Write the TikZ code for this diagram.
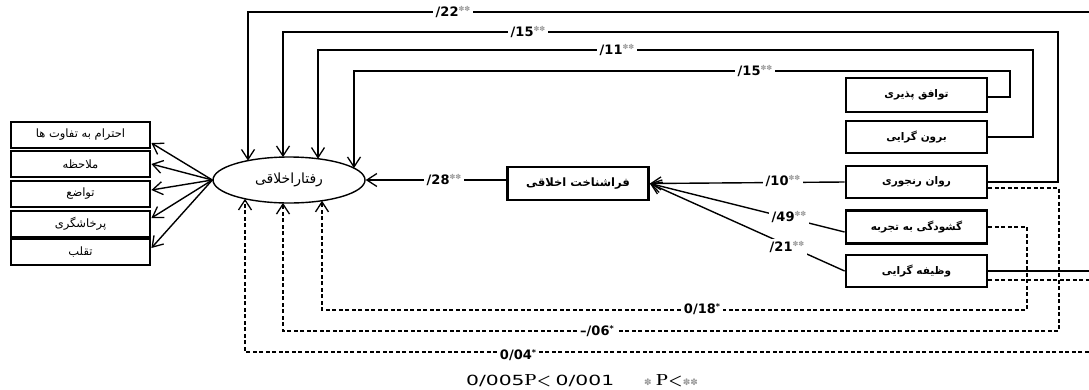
\documentclass[tikz,border=0pt]{standalone}
\usepackage{fontspec}
\usetikzlibrary{arrows.meta,shapes.geometric,calc}
\TeXXeTstate=1
\newfontfamily\fa[Script=Arabic]{DejaVu Sans}
\newfontfamily\numf{DejaVu Sans}
\newcommand\fat[1]{{\fa\beginR #1\endR}}
\newcommand\coef[2]{{\numf\bfseries #1}\raisebox{4.5pt}{\numf\fontsize{7}{7}\selectfont\color{gray!80}#2}}
\newcommand\coefb[1]{{\numf\bfseries #1}\raisebox{4.5pt}{\numf\bfseries\fontsize{8}{8}\selectfont *}}
\begin{document}
\begin{tikzpicture}[x=1pt,y=-1pt,
  box/.style={draw, line width=2.8pt, minimum width=139pt, minimum height=26pt, inner sep=0pt, font=\fa\fontsize{11.5}{11.5}\selectfont},
  rbox/.style={draw, line width=2.8pt, minimum width=141pt, minimum height=32pt, inner sep=0pt, font=\fa\bfseries\fontsize{10.5}{10.5}\selectfont},
  conn/.style={line width=1.4pt},
  arr/.style={conn, -{Straight Barb[length=10pt,width=13pt,line width=1.3pt]}},
  dsh/.style={arr, dash pattern=on 4pt off 2.5pt},
  lab/.style={fill=white, inner sep=2.5pt, font=\numf\bfseries\fontsize{13}{13}\selectfont}]
\useasboundingbox (0,0) rectangle (1089,389);
\fill[white] (0,0) rectangle (1089,389);
\clip (0,0) rectangle (1089,389);

% left boxes
\node[box] (L1) at (80.5,135) {\fat{احترام به تفاوت ها}};
\node[box] (L2) at (80.5,164) {\fat{ملاحظه}};
\node[box] (L3) at (80.5,194) {\fat{تواضع}};
\node[box] (L4) at (80.5,224) {\fat{پرخاشگری}};
\node[box] (L5) at (80.5,252) {\fat{تقلب}};

% ellipse
\node[draw, ellipse, line width=1.4pt, minimum width=152pt, minimum height=46pt, inner sep=0pt, font=\fa\fontsize{14}{14}\selectfont] (ell) at (289,180) {\fat{رفتاراخلاقی}};

% middle box
\node[rbox, minimum height=33pt, font=\fa\bfseries\fontsize{11.5}{11.5}\selectfont] (M) at (578,183.5) {\fat{فراشناخت اخلاقی}};

% right boxes
\node[rbox, minimum height=34pt] (R1) at (916.5,95) {\fat{توافق پذیری}};
\node[rbox] (R2) at (916.5,137) {\fat{برون گرایی}};
\node[rbox] (R3) at (916.5,182) {\fat{روان رنجوری}};
\node[rbox, minimum height=33pt] (R4) at (916.5,227) {\fat{گشودگی به تجربه}};
\node[rbox] (R5) at (916.5,271) {\fat{وظیفه گرایی}};

% points on ellipse
\coordinate (t1) at (248,160.6);
\coordinate (t2) at (283,157.1);
\coordinate (t3) at (318,158.7);
\coordinate (t4) at (354,168.1);
\coordinate (b1) at (245,198.8);
\coordinate (b2) at (283,202.9);
\coordinate (b3) at (322,200.7);

% ellipse to left boxes
\draw[arr] (ell.west) -- ($(L1.east)+(0,8)$);
\draw[arr] (ell.west) -- ($(L2.east)+(0,0)$);
\draw[arr] (ell.west) -- ($(L3.east)+(0,-4)$);
\draw[arr] (ell.west) -- ($(L4.east)+(0,-6)$);
\draw[arr] (ell.west) -- ($(L5.east)+(0,-4)$);

% top solid connectors
\draw[arr] (R5.east) -- (1100,271) |- (248,12) -- (t1);
\draw[arr] (R3.east) -- (1058,182) |- (283,32) -- (t2);
\draw[arr] (R2.east) -- (1033,137) |- (318,50) -- (t3);
\draw[arr] ($(R1.east)+(0,2)$) -- (1010,97) |- (354,71) -- (t4);
\node[lab] at (453,12) {\coef{/22}{✽✽}};
\node[lab] at (528,32) {\coef{/15}{✽✽}};
\node[lab] at (617,50) {\coef{/11}{✽✽}};
\node[lab] at (755,71) {\coef{/15}{✽✽}};

% middle
\draw[arr] (M.west |- ell.east) -- (ell.east);
\node[lab] at (444,180) {\coef{/28}{✽✽}};
\draw[arr] (R3.west) -- (M.east);
\draw[arr] ($(R4.west)+(0,5)$) -- (M.east);
\draw[arr] (R5.west) -- (M.east);
\node[lab] at (783,181) {\coef{/10}{✽✽}};
\node[lab] at (789,217) {\coef{/49}{✽✽}};
\node[lab] at (787,247) {\coef{/21}{✽✽}};

% dashed connectors
\draw[dsh] (R4.east) -- (1027,227) |- (322,310) -- (b3);
\draw[dsh] ($(R3.east)+(0,6)$) -- (1059,188) |- (283,331) -- (b2);
\draw[dsh] ($(R5.east)+(0,9)$) -- (1100,280) |- (245,352) -- (b1);
\node[lab] at (702,309) {\coefb{0/18}};
\node[lab] at (597,331) {\coefb{–/06}};
\node[lab, yshift=-2pt] at (518,353) {\coefb{0/04}};

% footnote
\node[inner sep=0pt, font=\numf\fontsize{14}{14}\selectfont] (fn) at (582,381)
  {\scalebox{1.45}[1]{0/005}{\rmfamily\bfseries\fontsize{16}{16}\selectfont P<} \scalebox{1.45}[1]{0/001}\hspace{30pt}{\color{gray!80}\fontsize{9}{9}\selectfont ✽} {\rmfamily\bfseries\fontsize{16}{16}\selectfont P<}{\color{gray!80}\fontsize{9}{9}\selectfont ✽✽}};
\end{tikzpicture}
\end{document}
